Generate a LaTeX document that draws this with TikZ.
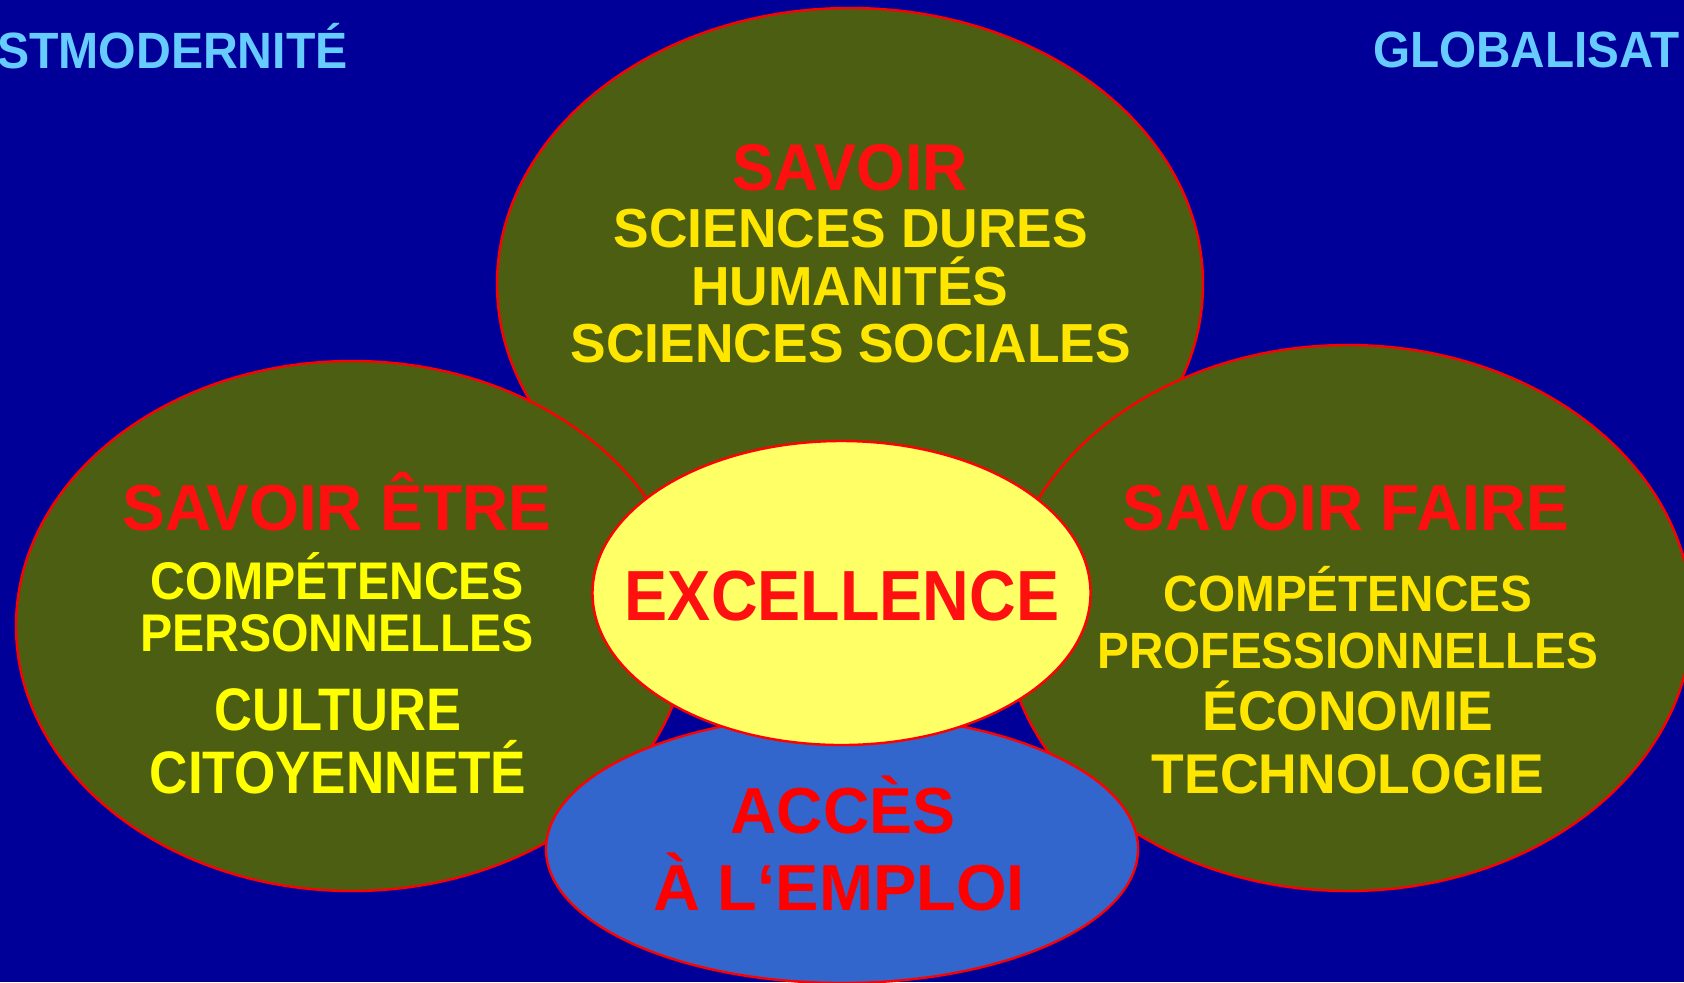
\documentclass[tikz,border=0pt]{standalone}
\usepackage{fontspec}
\setmainfont{Liberation Sans}
\usetikzlibrary{shapes.geometric}
\definecolor{bgblue}{HTML}{000099}
\definecolor{ovfill}{HTML}{4C5E12}
\definecolor{goldtxt}{HTML}{FFE600}
\definecolor{lemtxt}{HTML}{FFFF00}
\definecolor{cyel}{HTML}{FFFF66}
\definecolor{cblue}{HTML}{3366CC}
\definecolor{ltblue}{HTML}{66CCFF}
\definecolor{tred}{HTML}{FF1010}
\newcommand{\hsq}[2]{\scalebox{#1}[1]{#2}}
\tikzset{
  blob/.style={ellipse, draw=red, line width=1.2pt, inner sep=0pt, outer sep=0pt},
  txt/.style={anchor=base, inner sep=0pt, outer sep=0pt},
  fs/.style={font=\fontsize{#1}{#1}\selectfont\bfseries}
}
\begin{document}
\begin{tikzpicture}[x=0.5pt,y=-0.5pt]
\useasboundingbox (0,0) rectangle (1684,982);
\fill[bgblue] (0,0) rectangle (1684,982);
\clip (0,0) rectangle (1684,982);

% ellipses (minimum width = rx in pt, minimum height = ry in pt)
\node[blob, fill=ovfill, minimum width=353pt, minimum height=276pt] (savoir) at (850,284) {};
\node[blob, fill=ovfill, minimum width=336pt, minimum height=265pt] (etre) at (352,626) {};
\node[blob, fill=ovfill, minimum width=344pt, minimum height=273pt] (faire) at (1348,618) {};
\node[blob, fill=cblue, minimum width=296pt, minimum height=134pt] (acces) at (842,849) {};
\node[blob, fill=cyel, minimum width=249pt, minimum height=152pt] (excel) at (841.5,593) {};

% corner labels
\node[txt, anchor=base west, fs=25.5, text=ltblue] (postmod) at (-3,68) {\hsq{0.945}{STMODERNITÉ}};
\node[txt, anchor=base west, fs=25.5, text=ltblue] (global) at (1373,67) {\hsq{0.935}{GLOBALISAT}};

% top ellipse
\node[txt, fs=33, text=tred] (t1) at (850,190) {\hsq{0.95}{SAVOIR}};
\node[txt, fs=27.5, text=goldtxt] (t2) at (851,247) {\hsq{0.97}{SCIENCES DURES}};
\node[txt, fs=27.5, text=goldtxt] (t3) at (850,305) {\hsq{0.97}{HUMANITÉS}};
\node[txt, fs=27.5, text=goldtxt] (t4) at (851,362) {\hsq{0.97}{SCIENCES SOCIALES}};

% left ellipse
\node[txt, fs=32.5, text=tred] (l1) at (337,530) {\hsq{0.985}{SAVOIR ÊTRE}};
\node[txt, fs=26.5, text=lemtxt] (l2) at (337,599) {\hsq{0.91}{COMPÉTENCES}};
\node[txt, fs=26.5, text=lemtxt] (l3) at (337,651) {\hsq{0.91}{PERSONNELLES}};
\node[txt, fs=30, text=lemtxt] (l4) at (338,730) {\hsq{0.875}{CULTURE}};
\node[txt, fs=30, text=lemtxt] (l5) at (338,793) {\hsq{0.885}{CITOYENNETÉ}};

% right ellipse
\node[txt, fs=32.5, text=tred] (r1) at (1346,530) {\hsq{0.985}{SAVOIR FAIRE}};
\node[txt, fs=25.5, text=goldtxt] (r2) at (1348,611) {\hsq{0.935}{COMPÉTENCES}};
\node[txt, fs=25.5, text=goldtxt] (r3) at (1348,668) {\hsq{0.935}{PROFESSIONNELLES}};
\node[txt, fs=28, text=goldtxt] (r4) at (1348,730) {\hsq{0.955}{ÉCONOMIE}};
\node[txt, fs=28, text=goldtxt] (r5) at (1348,793) {\hsq{0.955}{TECHNOLOGIE}};

% center
\node[txt, fs=35.5, text=tred] (c1) at (842,620) {\hsq{0.91}{EXCELLENCE}};

% bottom
\node[txt, fs=32.5, text=red] (b1) at (843,833) {\hsq{0.99}{ACCÈS}};
\node[txt, fs=32.5, text=red] (b2) at (839,910) {\hsq{1.0}{À L‘EMPLOI}};
\end{tikzpicture}
\end{document}
